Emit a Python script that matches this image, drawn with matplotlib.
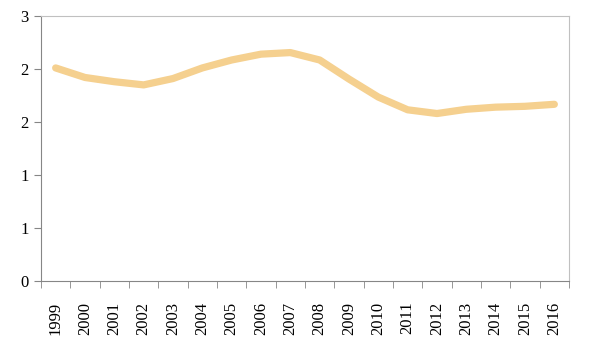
import numpy as np
import matplotlib.pyplot as plt

years = [str(y) for y in range(1999, 2017)]
values = [2.01, 1.92, 1.88, 1.85, 1.91, 2.01, 2.085, 2.14, 2.155,
          2.085, 1.905, 1.735, 1.615, 1.58, 1.62, 1.64, 1.648, 1.667]
y_ticks = [0, 0.5, 1.0, 1.5, 2.0, 2.5]
y_labels = ['0', '1', '1', '2', '2', '3']

plt.rcParams['font.family'] = ['Liberation Serif', 'DejaVu Serif']

fig = plt.figure(figsize=(5.91, 3.45), dpi=100)
ax = fig.add_axes([41 / 591, 64 / 345, 528 / 591, 265 / 345])

x = np.arange(len(years))
ax.plot(x, values, color='#F5D08F', linewidth=5.2,
        solid_capstyle='round', solid_joinstyle='round')

ax.set_xlim(-0.5, len(years) - 0.5)
ax.set_ylim(0, 2.5)

ax.set_yticks(y_ticks)
ax.set_yticklabels(y_labels, fontsize=12)
ax.set_xticks(x)
ax.set_xticklabels(years, rotation=90, fontsize=12)
ax.set_xticks(np.arange(-0.5, len(years)), minor=True)

ax.tick_params(axis='x', which='major', length=0, pad=15)
ax.tick_params(axis='x', which='minor', length=5, color='#868686', direction='out')
ax.tick_params(axis='y', length=5, color='#868686', direction='out', pad=4)

for side in ['left', 'bottom']:
    ax.spines[side].set_color('#868686')
for side in ['top', 'right']:
    ax.spines[side].set_color('#C0C0C0')

fig.savefig('out.png', dpi=100)
